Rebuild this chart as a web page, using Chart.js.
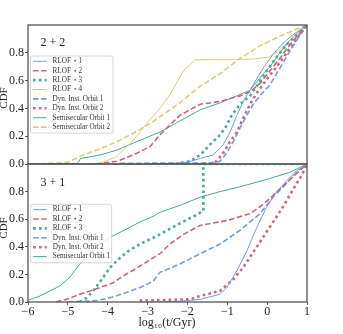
<!DOCTYPE html>
<html><head><meta charset="utf-8">
<script src="https://cdn.jsdelivr.net/npm/chart.js@4/dist/chart.umd.min.js"></script>
<style>
html,body{margin:0;padding:0;background:#fff;}
#wrap{position:relative;width:343px;height:334px;}
canvas{position:absolute;left:0;top:0;}
</style></head><body>
<div id="wrap"><canvas id="c1" width="343" height="334"></canvas><canvas id="c2" width="343" height="334"></canvas></div>
<script>
// ---- data (x = log10(t/Gyr), y = CDF) ----
const xTicks = [-6,-5,-4,-3,-2,-1,0,1];
const yTicks = [0,0.2,0.4,0.6,0.8];

// Panel 2+2
const top_rlof1 = [[-3.0,0],[-2.2,0.005],[-1.91,0.02],[-1.68,0.04],[-1.35,0.065],[-1.10,0.14],[-0.93,0.23],[-0.76,0.35],[-0.60,0.45],[-0.35,0.57],[-0.10,0.69],[0.15,0.79],[0.40,0.87],[0.65,0.93],[1,1]];
const top_rlof2 = [[-4.3,0],[-3.77,0.02],[-3.36,0.065],[-2.94,0.125],[-2.69,0.21],[-2.44,0.28],[-2.19,0.35],[-1.68,0.43],[-1.18,0.45],[-0.68,0.49],[-0.43,0.52],[-0.18,0.58],[0.07,0.67],[0.32,0.76],[0.57,0.86],[1,1]];
const top_rlof3 = [[-2.3,0],[-1.94,0.02],[-1.68,0.065],[-1.43,0.14],[-1.18,0.21],[-1.01,0.28],[-0.89,0.35],[-0.68,0.43],[-0.43,0.49],[-0.26,0.56],[-0.01,0.67],[0.24,0.77],[0.49,0.86],[0.74,0.93],[1,1]];
const top_rlof4 = [[-5.0,0],[-4.2,0.005],[-3.77,0.053],[-3.36,0.17],[-2.94,0.32],[-2.69,0.40],[-2.44,0.50],[-2.10,0.67],[-1.81,0.75],[-1.0,0.75],[-0.35,0.755],[0.05,0.77],[0.35,0.83],[0.68,0.92],[1,1]];
const top_dyn1 = [[-3.7,0.005],[-1.40,0.008],[-1.18,0.02],[-1.01,0.08],[-0.85,0.16],[-0.68,0.26],[-0.51,0.35],[-0.35,0.43],[-0.18,0.49],[0.07,0.57],[0.32,0.69],[0.57,0.81],[0.78,0.91],[1,1]];
const top_dyn2 = [[-1.45,0],[-1.27,0.02],[-1.10,0.08],[-0.93,0.16],[-0.76,0.23],[-0.60,0.33],[-0.43,0.43],[-0.26,0.51],[-0.01,0.61],[0.24,0.70],[0.49,0.80],[0.74,0.90],[1,1]];
const top_semi1 = [[-6,0],[-4.75,0.005],[-4.68,0.04],[-4.19,0.065],[-3.77,0.10],[-3.36,0.15],[-2.94,0.20],[-2.69,0.23],[-2.19,0.31],[-1.68,0.39],[-1.18,0.44],[-0.68,0.50],[-0.43,0.53],[-0.18,0.62],[0.07,0.70],[0.32,0.80],[0.57,0.89],[0.8,0.95],[1,1]];
const top_semi2 = [[-5.9,0],[-5.03,0.01],[-4.61,0.065],[-4.19,0.11],[-3.77,0.16],[-3.36,0.22],[-2.94,0.29],[-2.69,0.34],[-2.19,0.44],[-1.68,0.56],[-1.18,0.65],[-0.68,0.76],[-0.18,0.85],[0.32,0.92],[0.82,0.98],[1,1]];

// Panel 3+1
const bot_rlof1 = [[-3.0,0],[-2.2,0.005],[-1.68,0.02],[-1.18,0.056],[-1.01,0.105],[-0.76,0.226],[-0.51,0.37],[-0.26,0.54],[-0.01,0.69],[0.24,0.80],[0.49,0.88],[0.74,0.95],[1,1]];
const bot_rlof2 = [[-5.3,0],[-5.03,0.02],[-4.70,0.056],[-4.44,0.08],[-4.19,0.105],[-3.86,0.14],[-3.61,0.19],[-3.36,0.23],[-3.11,0.275],[-2.69,0.35],[-2.44,0.42],[-2.10,0.49],[-1.68,0.555],[-1.01,0.59],[-0.43,0.64],[-0.18,0.69],[0.07,0.75],[0.32,0.82],[0.66,0.91],[1,1]];
const bot_rlof3 = [[-4.7,0],[-4.53,0.03],[-4.40,0.07],[-4.27,0.117],[-4.11,0.18],[-3.94,0.25],[-3.73,0.31],[-3.48,0.37],[-3.19,0.42],[-2.90,0.46],[-2.69,0.49],[-2.19,0.57],[-1.85,0.62],[-1.60,0.66],[-1.60,1.0],[1,1]];
const bot_dyn1 = [[-5.0,0],[-4.3,0.01],[-3.94,0.03],[-3.52,0.07],[-3.19,0.105],[-2.86,0.15],[-2.69,0.215],[-2.19,0.275],[-1.68,0.35],[-1.18,0.42],[-0.68,0.52],[-0.18,0.64],[0.15,0.76],[0.49,0.86],[0.74,0.94],[1,1]];
const bot_dyn2 = [[-3.2,0.01],[-1.91,0.02],[-1.68,0.044],[-1.18,0.08],[-0.85,0.165],[-0.60,0.25],[-0.35,0.36],[-0.10,0.47],[0.15,0.58],[0.40,0.69],[0.66,0.82],[0.87,0.92],[1,1]];
const bot_semi1 = [[-6,0.012],[-5.7,0.044],[-5.45,0.08],[-5.2,0.117],[-4.95,0.18],[-4.70,0.275],[-4.44,0.35],[-4.19,0.42],[-3.86,0.48],[-3.52,0.53],[-3.19,0.58],[-2.86,0.62],[-2.69,0.65],[-2.19,0.70],[-1.68,0.76],[-1.18,0.80],[-0.68,0.835],[0.07,0.895],[0.57,0.94],[1,1]];

const topLabels = ['RLOF \u22c6 1','RLOF \u22c6 2','RLOF \u22c6 3','RLOF \u22c6 4','Dyn. Inst. Orbit 1','Dyn. Inst. Orbit 2','Semisecular Orbit 1','Semisecular Orbit 2'];
const botLabels = ['RLOF \u22c6 1','RLOF \u22c6 2','RLOF \u22c6 3','Dyn. Inst. Orbit 1','Dyn. Inst. Orbit 2','Semisecular Orbit 1'];

// ---- styles ----
const BLUE='#6F9FD8', RED='#CC6677', GREEN='#44AA99', YEL='#DDCC77';
const SOLID={w:1,dash:[]}, DASH={w:1.6,dash:[5.5,2.6]}, DOT={w:2.6,dash:[2.6,3.2]};
function ds(label,data,color,st){
  return {label,data:data.map(p=>({x:p[0],y:p[1]})),borderColor:color,backgroundColor:color,
    borderWidth:st.w,borderDash:st.dash,showLine:true,pointRadius:0,tension:0,fill:false,_st:st};
}
const topSets=[
  ds(topLabels[0],top_rlof1,BLUE,SOLID), ds(topLabels[1],top_rlof2,RED,DASH),
  ds(topLabels[2],top_rlof3,GREEN,DOT), ds(topLabels[3],top_rlof4,YEL,SOLID),
  ds(topLabels[4],top_dyn1,BLUE,DASH), ds(topLabels[5],top_dyn2,RED,DOT),
  ds(topLabels[6],top_semi1,GREEN,SOLID), ds(topLabels[7],top_semi2,YEL,DASH)];
const botSets=[
  ds(botLabels[0],bot_rlof1,BLUE,SOLID), ds(botLabels[1],bot_rlof2,RED,DASH),
  ds(botLabels[2],bot_rlof3,GREEN,DOT), ds(botLabels[3],bot_dyn1,BLUE,DASH),
  ds(botLabels[4],bot_dyn2,RED,DOT), ds(botLabels[5],bot_semi1,GREEN,SOLID)];

const SERIF='"Liberation Serif","DejaVu Serif",serif';
const AX='#555';
function fmtMinus(v){return (v<0?'\u2212':'')+Math.abs(v);}

function overlay(opts){
  return {id:'ov',afterDatasetsDraw(chart){
    const c=chart.ctx, a=chart.chartArea;
    c.save();
    c.strokeStyle=AX; c.lineWidth=1.3; c.setLineDash([]);
    c.strokeRect(a.left,a.top,a.right-a.left,a.bottom-a.top);
    c.fillStyle='#222'; c.font='12px '+SERIF; c.textAlign='left'; c.textBaseline='middle';
    c.fillText(opts.panel,40.5,opts.panelY);
    c.save(); c.translate(4,opts.cdfY); c.rotate(-Math.PI/2);
    c.textAlign='center'; c.textBaseline='middle'; c.font='11px '+SERIF; c.fillText('CDF',0,0); c.restore();
    const b=opts.box;
    c.fillStyle='rgba(255,255,255,0.85)'; c.strokeStyle='#cccccc'; c.lineWidth=0.8;
    c.beginPath(); if(c.roundRect){c.roundRect(b.x,b.y,b.w,b.h,2);}else{c.rect(b.x,b.y,b.w,b.h);} c.fill(); c.stroke();
    c.font='7.2px '+SERIF; c.textBaseline='middle';
    chart.data.datasets.forEach((d,i)=>{
      const y=b.y+5.3+i*9.4;
      c.strokeStyle=d.borderColor; c.lineWidth=d._st.w; c.setLineDash(d._st.dash);
      c.beginPath(); c.moveTo(b.x+2.5,y); c.lineTo(b.x+16,y); c.stroke();
      c.setLineDash([]); c.fillStyle='#333'; c.fillText(d.label,b.x+22,y);
    });
    if(opts.xtitle){
      c.fillStyle='#222'; c.font='12px '+SERIF; c.textAlign='center'; c.textBaseline='middle';
      c.fillText('log\u2081\u2080(t/Gyr)',167,322.5);
    }
    c.restore();
  }};
}

function makeChart(id,sets,padTop,padBottom,showX,ov){
  return new Chart(document.getElementById(id),{
    type:'scatter',
    data:{datasets:sets},
    options:{
      responsive:false,animation:false,
      layout:{padding:{top:padTop,right:36,bottom:padBottom,left:0}},
      plugins:{legend:{display:false},tooltip:{enabled:false}},
      scales:{
        x:{type:'linear',min:-6,max:1,
          afterBuildTicks(s){s.ticks=xTicks.map(v=>({value:v}));},
          afterFit(s){s.height=showX?32:0;},
          grid:{display:showX,drawOnChartArea:false,drawTicks:showX,tickLength:3,color:AX},
          border:{display:false},
          ticks:{display:showX,padding:0,color:'#222',font:{family:SERIF,size:12},callback:v=>fmtMinus(v),maxRotation:0,autoSkip:false}},
        y:{type:'linear',min:0,max:1,
          afterBuildTicks(s){s.ticks=yTicks.map(v=>({value:v}));},
          afterFit(s){s.width=28;},
          grid:{display:true,drawOnChartArea:false,drawTicks:true,tickLength:3,color:AX},
          border:{display:false},
          ticks:{padding:1,color:'#222',font:{family:SERIF,size:12},callback:v=>v.toFixed(1),autoSkip:false}}
      }
    },
    plugins:[ov]
  });
}
makeChart('c1',topSets,25,170,false,overlay({panel:'2 + 2',panelY:43,cdfY:98,box:{x:30.5,y:56,w:82.5,h:77},xtitle:false}));
makeChart('c2',botSets,164,0,true,overlay({panel:'3 + 1',panelY:182.5,cdfY:228,box:{x:30.7,y:204.3,w:81,h:58.5},xtitle:true}));
</script></body></html>
